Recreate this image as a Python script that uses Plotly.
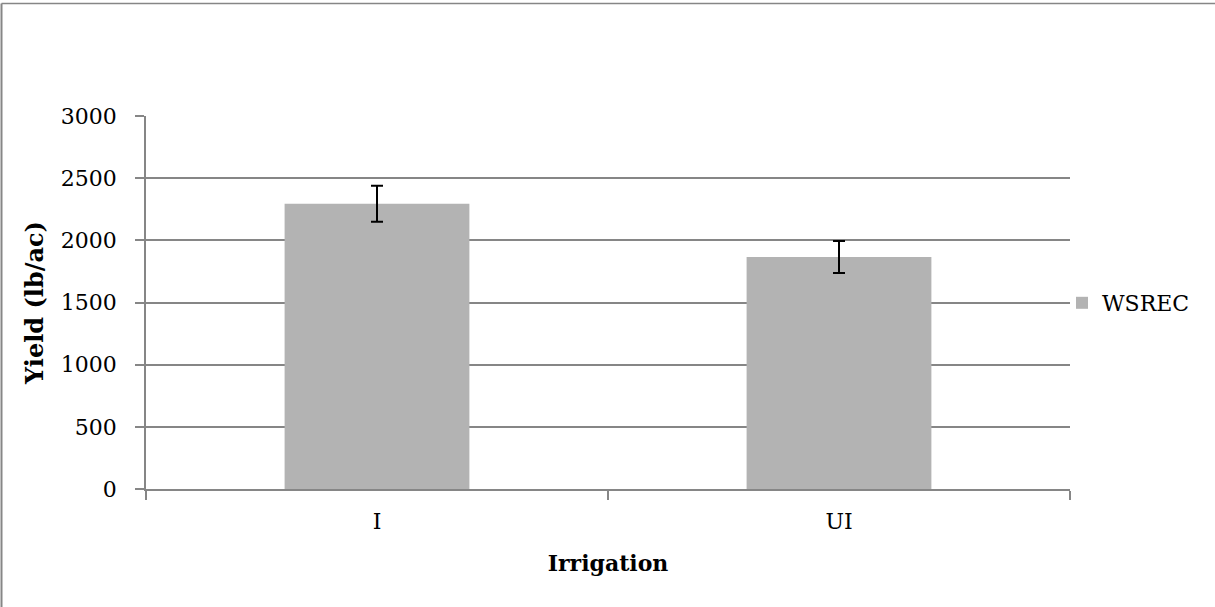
import plotly.graph_objects as go

categories = ["I", "UI"]
yield_values = [2295, 1866]
error_values = [145, 128]
series_name = "WSREC"
y_ticks = [0, 500, 1000, 1500, 2000, 2500, 3000]

FONT = "DejaVu Serif"
W, H = 1215, 607
L, R, T, B = 146, 145, 116, 118
pw, ph = W - L - R, H - T - B

fig = go.Figure()
fig.add_trace(go.Bar(
    x=categories, y=yield_values, name=series_name,
    marker=dict(color="#b3b3b3", line=dict(width=0)),
    error_y=dict(type="data", array=error_values, visible=True,
                 color="black", thickness=2, width=6),
    showlegend=True,
))

fig.update_layout(
    width=W, height=H,
    margin=dict(l=L, r=R, t=T, b=B),
    paper_bgcolor="white", plot_bgcolor="white",
    font=dict(family=FONT, size=22, color="black"),
    bargap=0.6,
    showlegend=True,
    legend=dict(x=(1062 - L) / pw, y=(H - B - 303) / ph, xanchor="left", yanchor="middle",
                font=dict(family=FONT, size=22), itemwidth=30, bgcolor="rgba(0,0,0,0)"),
    xaxis=dict(
        type="category", tickson="boundaries", ticks="outside", ticklen=9,
        tickcolor="#868686", tickwidth=1.5,
        showline=True, linecolor="#868686", linewidth=2,
        showgrid=False,
        title=dict(text="<b>Irrigation</b>", font=dict(family=FONT, size=22), standoff=22),
        tickfont=dict(family=FONT, size=22),
        ticklabelstandoff=12,
    ),
    yaxis=dict(
        range=[0, 3000], tickvals=y_ticks, ticks="outside", ticklen=9,
        tickcolor="#868686", tickwidth=1.5,
        showline=True, linecolor="#868686", linewidth=1.5,
        showgrid=True, gridcolor="#868686", gridwidth=1.5,
        zeroline=False,
        title=dict(text="<b>Yield (lb/ac)</b>", font=dict(family=FONT, size=24), standoff=10),
        tickfont=dict(family=FONT, size=22),
        ticklabelstandoff=14,
    ),
    shapes=[
        dict(type="line", xref="paper", yref="paper",
             x0=(1.5 - L) / pw, x1=(1.5 - L) / pw,
             y0=-B / ph, y1=1 + (T - 3.5) / ph,
             line=dict(color="#868686", width=2)),
        dict(type="line", xref="paper", yref="paper",
             x0=(1.5 - L) / pw, x1=(W - L) / pw,
             y0=1 + (T - 3.5) / ph, y1=1 + (T - 3.5) / ph,
             line=dict(color="#868686", width=1.5)),
    ],
)

fig.write_html("out.html", config={"displayModeBar": False},
               post_script="document.body.style.margin='0';")
